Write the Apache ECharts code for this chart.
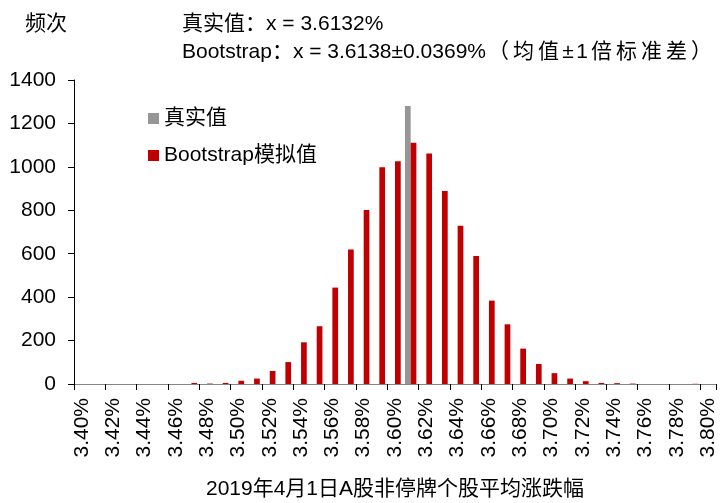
<!DOCTYPE html>
<html>
<head>
<meta charset="utf-8">
<script src="https://cdn.jsdelivr.net/npm/echarts@6/dist/echarts.min.js"></script>
<style>
  html, body { margin: 0; padding: 0; background: #fff; }
  #main { width: 720px; height: 503px; }
</style>
</head>
<body>
<div id="main"></div>
<script>
// 横轴分组（涨跌幅）
const categories = [
  '3.40%', '3.41%', '3.42%', '3.43%', '3.44%', '3.45%', '3.46%', '3.47%', '3.48%', '3.49%',
  '3.50%', '3.51%', '3.52%', '3.53%', '3.54%', '3.55%', '3.56%', '3.57%', '3.58%', '3.59%',
  '3.60%', '3.61%', '3.62%', '3.63%', '3.64%', '3.65%', '3.66%', '3.67%', '3.68%', '3.69%',
  '3.70%', '3.71%', '3.72%', '3.73%', '3.74%', '3.75%', '3.76%', '3.77%', '3.78%', '3.79%',
  '3.80%'
]
// Bootstrap模拟值 频次
const bootstrapCounts = [
  0, 0, 0, 0, 0, 0, 0, 5, 2, 5,
  15, 25, 60, 101, 192, 266, 444, 619, 801, 998,
  1026, 1111, 1061, 889, 729, 590, 384, 275, 163, 92,
  50, 25, 13, 5, 4, 2, 0, 0, 0, 1,
  0
]
// 真实值 只在 3.61% 一组
const trueValue = [
  null, null, null, null, null, null, null, null, null, null,
  null, null, null, null, null, null, null, null, null, null,
  null, 1280, null, null, null, null, null, null, null, null,
  null, null, null, null, null, null, null, null, null, null,
  null
]
const yTicks = { min: 0, max: 1400, interval: 200 }

const FONT = "'Liberation Sans', Arial, 'Noto Sans CJK SC', sans-serif"

// 括号里的说明，中文字距较宽，逐字排
const noteChars = ['（', '均', '值', '±', '1', '倍', '标', '准', '差', '）']
const noteText = noteChars.map(c => (c === '±' || c === '1' ? '{n|' : '{c|') + c + '}').join('')

let chart = echarts.init(document.getElementById('main'))
chart.setOption({
  animation: false,
  title: [
    {
      text: '频次',
      left: 20,
      top: 9,
      textStyle: { fontFamily: FONT, fontSize: 21, fontWeight: 'normal', color: '#000' }
    },
    {
      text: '{t|真实值：x = 3.6132%}\n{t|Bootstrap：x = 3.6138±0.0369%}' + noteText,
      left: 177,
      top: 5,
      textStyle: {
        fontFamily: FONT, fontSize: 21, fontWeight: 'normal', color: '#000', lineHeight: 28,
        rich: {
          t: { fontFamily: FONT, fontSize: 21, color: '#000', lineHeight: 28 },
          c: { fontFamily: FONT, fontSize: 21, color: '#000', lineHeight: 28, width: 25, align: 'center' },
          n: { fontFamily: FONT, fontSize: 21, color: '#000', lineHeight: 28, width: 14, align: 'center' }
        }
      }
    }
  ],
  legend: {
    orient: 'vertical',
    left: 143,
    top: 103,
    itemWidth: 11,
    itemHeight: 11,
    itemGap: 16,
    icon: 'rect',
    textStyle: { fontFamily: FONT, fontSize: 21, color: '#000' },
    data: ['真实值', 'Bootstrap模拟值']
  },
  grid: { left: 74, right: 4, top: 80, bottom: 119, containLabel: false, outerBoundsMode: 'none' },
  xAxis: {
    type: 'category',
    data: categories,
    boundaryGap: true,
    name: '2019年4月1日A股非停牌个股平均涨跌幅',
    nameLocation: 'middle',
    nameGap: 95,
    nameTextStyle: { fontFamily: FONT, fontSize: 21, color: '#000' },
    axisLine: { lineStyle: { color: '#868686', width: 1 } },
    axisTick: { show: true, interval: 1, length: 6, lineStyle: { color: '#000' } },
    axisLabel: {
      interval: 1,
      rotate: 90,
      margin: 14,
      fontFamily: FONT,
      fontSize: 21,
      color: '#000'
    },
    splitLine: { show: false }
  },
  yAxis: {
    type: 'value',
    min: yTicks.min,
    max: yTicks.max,
    interval: yTicks.interval,
    axisLine: { show: true, lineStyle: { color: '#000', width: 1 } },
    axisTick: { show: true, length: 6, lineStyle: { color: '#000' } },
    axisLabel: {
      margin: 18,
      fontFamily: FONT,
      fontSize: 21,
      color: '#000',
      formatter: (v) => String(v)
    },
    splitLine: { show: false }
  },
  series: [
    {
      name: '真实值',
      type: 'bar',
      data: trueValue,
      barGap: '0%',
      barCategoryGap: '27%',
      itemStyle: { color: '#969696' }
    },
    {
      name: 'Bootstrap模拟值',
      type: 'bar',
      data: bootstrapCounts,
      barGap: '0%',
      barCategoryGap: '27%',
      itemStyle: { color: '#C00000' }
    }
  ]
})
</script>
</body>
</html>
